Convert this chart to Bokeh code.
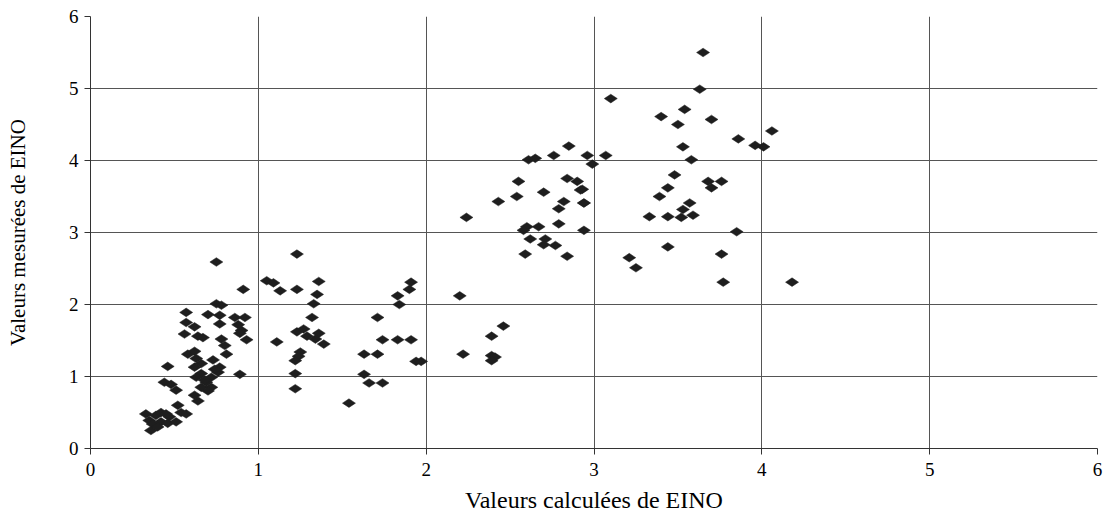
import math
from bokeh.plotting import figure
from bokeh.models import Range1d, FixedTicker
from bokeh.embed import file_html
from bokeh.resources import INLINE

calc = [
    3.65, 3.63, 3.54, 3.40, 3.50, 3.70, 4.06, 3.86, 3.96, 4.01, 3.53, 3.58, 3.48, 3.68, 3.76, 3.70,
    3.44, 3.39, 3.57, 3.53, 3.33, 3.44, 3.52, 3.59, 3.85, 3.44, 3.76, 3.77, 4.18,
    3.10, 2.96, 3.07, 2.99, 3.21, 3.25, 2.94, 2.93, 2.94,
    2.85, 2.61, 2.65, 2.76, 2.55, 2.84, 2.90, 2.92, 2.70, 2.54, 2.43, 2.82, 2.94, 2.79, 2.24,
    2.79, 2.60, 2.67, 2.58, 2.62, 2.71, 2.70, 2.77, 2.59, 2.84, 2.20,
    1.91, 1.90, 1.83, 1.84, 1.71, 1.74, 1.83, 1.91, 2.46, 2.39, 1.63, 1.71, 2.22, 2.39, 2.41, 2.39,
    1.94, 1.97, 1.63, 1.66, 1.74, 1.54,
    1.23, 1.05, 1.09, 1.13, 1.23, 1.36, 1.35, 1.33, 1.32, 0.91, 0.92, 0.90, 0.93, 1.11, 1.23, 1.27,
    1.29, 1.36, 1.34, 1.39, 1.25, 1.24, 1.22, 1.22, 1.22,
    0.75, 0.75, 0.78, 0.70, 0.77, 0.77, 0.86, 0.88, 0.89, 0.78, 0.80, 0.81, 0.73, 0.89, 0.77,
    0.57, 0.57, 0.62, 0.56, 0.64, 0.67, 0.58, 0.62, 0.63, 0.62, 0.66, 0.76, 0.72, 0.69, 0.66, 0.63,
    0.66, 0.72, 0.62, 0.64, 0.46, 0.44, 0.48, 0.51, 0.33, 0.35, 0.37, 0.36, 0.39, 0.42, 0.45, 0.47,
    0.42, 0.46, 0.51, 0.52, 0.54, 0.57, 0.40, 0.74, 0.70, 0.68,
]
mesure = [
    5.50, 4.99, 4.71, 4.61, 4.50, 4.57, 4.41, 4.30, 4.21, 4.19, 4.19, 4.01, 3.80, 3.71, 3.71, 3.62,
    3.62, 3.50, 3.41, 3.32, 3.22, 3.22, 3.21, 3.24, 3.01, 2.80, 2.70, 2.31, 2.31,
    4.86, 4.07, 4.07, 3.95, 2.65, 2.51, 3.03, 3.60, 3.41,
    4.20, 4.01, 4.03, 4.07, 3.71, 3.75, 3.71, 3.59, 3.56, 3.50, 3.43, 3.43, 3.41, 3.33, 3.21,
    3.12, 3.08, 3.08, 3.03, 2.91, 2.91, 2.83, 2.82, 2.70, 2.67, 2.12,
    2.31, 2.21, 2.12, 2.00, 1.82, 1.51, 1.51, 1.51, 1.70, 1.56, 1.31, 1.31, 1.31, 1.29, 1.27, 1.22,
    1.21, 1.21, 1.03, 0.91, 0.91, 0.63,
    2.70, 2.33, 2.30, 2.19, 2.21, 2.32, 2.14, 2.01, 1.82, 2.21, 1.82, 1.64, 1.51, 1.48, 1.62, 1.66,
    1.56, 1.60, 1.52, 1.45, 1.34, 1.28, 1.22, 1.04, 0.83,
    2.59, 2.01, 1.99, 1.86, 1.85, 1.73, 1.82, 1.72, 1.60, 1.52, 1.43, 1.31, 1.23, 1.03, 1.13,
    1.89, 1.75, 1.69, 1.59, 1.56, 1.54, 1.31, 1.35, 1.25, 1.13, 1.18, 1.06, 0.99, 0.92, 1.04, 0.99,
    0.85, 0.85, 0.74, 0.66, 1.14, 0.92, 0.89, 0.81, 0.48, 0.39, 0.34, 0.25, 0.46, 0.50, 0.48, 0.44,
    0.37, 0.35, 0.37, 0.60, 0.50, 0.48, 0.30, 1.10, 0.80, 0.95,
]
ticks = [0, 1, 2, 3, 4, 5, 6]

p = figure(frame_width=1007, frame_height=432, output_backend="svg", toolbar_location=None,
           x_range=Range1d(0, 6), y_range=Range1d(0, 6),
           min_border_left=90, min_border_right=8, min_border_top=16, min_border_bottom=68)
p.outline_line_color = None
p.background_fill_color = "white"
p.border_fill_color = "white"

p.scatter(calc, mesure, marker="diamond", size=13, angle=math.pi / 2,
          fill_color="#1e1e1e", line_color="#1e1e1e", line_width=0.5)

for ax in (p.xaxis[0], p.yaxis[0]):
    ax.ticker = FixedTicker(ticks=ticks)
    ax.minor_tick_line_color = None
    ax.axis_line_color = "#333333"
    ax.major_tick_line_color = "#333333"
    ax.major_tick_out = 6
    ax.major_tick_in = 0
    ax.major_label_text_font = "Liberation Serif"
    ax.major_label_text_font_size = "19px"
    ax.major_label_text_color = "#000000"
    ax.axis_label_text_font = "Liberation Serif"
    ax.axis_label_text_font_style = "normal"
    ax.axis_label_text_color = "#000000"

p.xaxis.axis_label = "Valeurs calculées de EINO"
p.xaxis.axis_label_text_font_size = "24px"
p.xaxis.major_label_standoff = 8
p.xaxis.axis_label_standoff = 8
p.yaxis.axis_label = "Valeurs mesurées de EINO"
p.yaxis.axis_label_text_font_size = "21px"
p.yaxis.major_label_standoff = 6
p.yaxis.axis_label_standoff = 36

p.xgrid.ticker = FixedTicker(ticks=ticks)
p.ygrid.ticker = FixedTicker(ticks=ticks)
p.grid.grid_line_color = "#555555"
p.grid.grid_line_width = 1

open("out.html", "w").write(file_html(p, INLINE))
